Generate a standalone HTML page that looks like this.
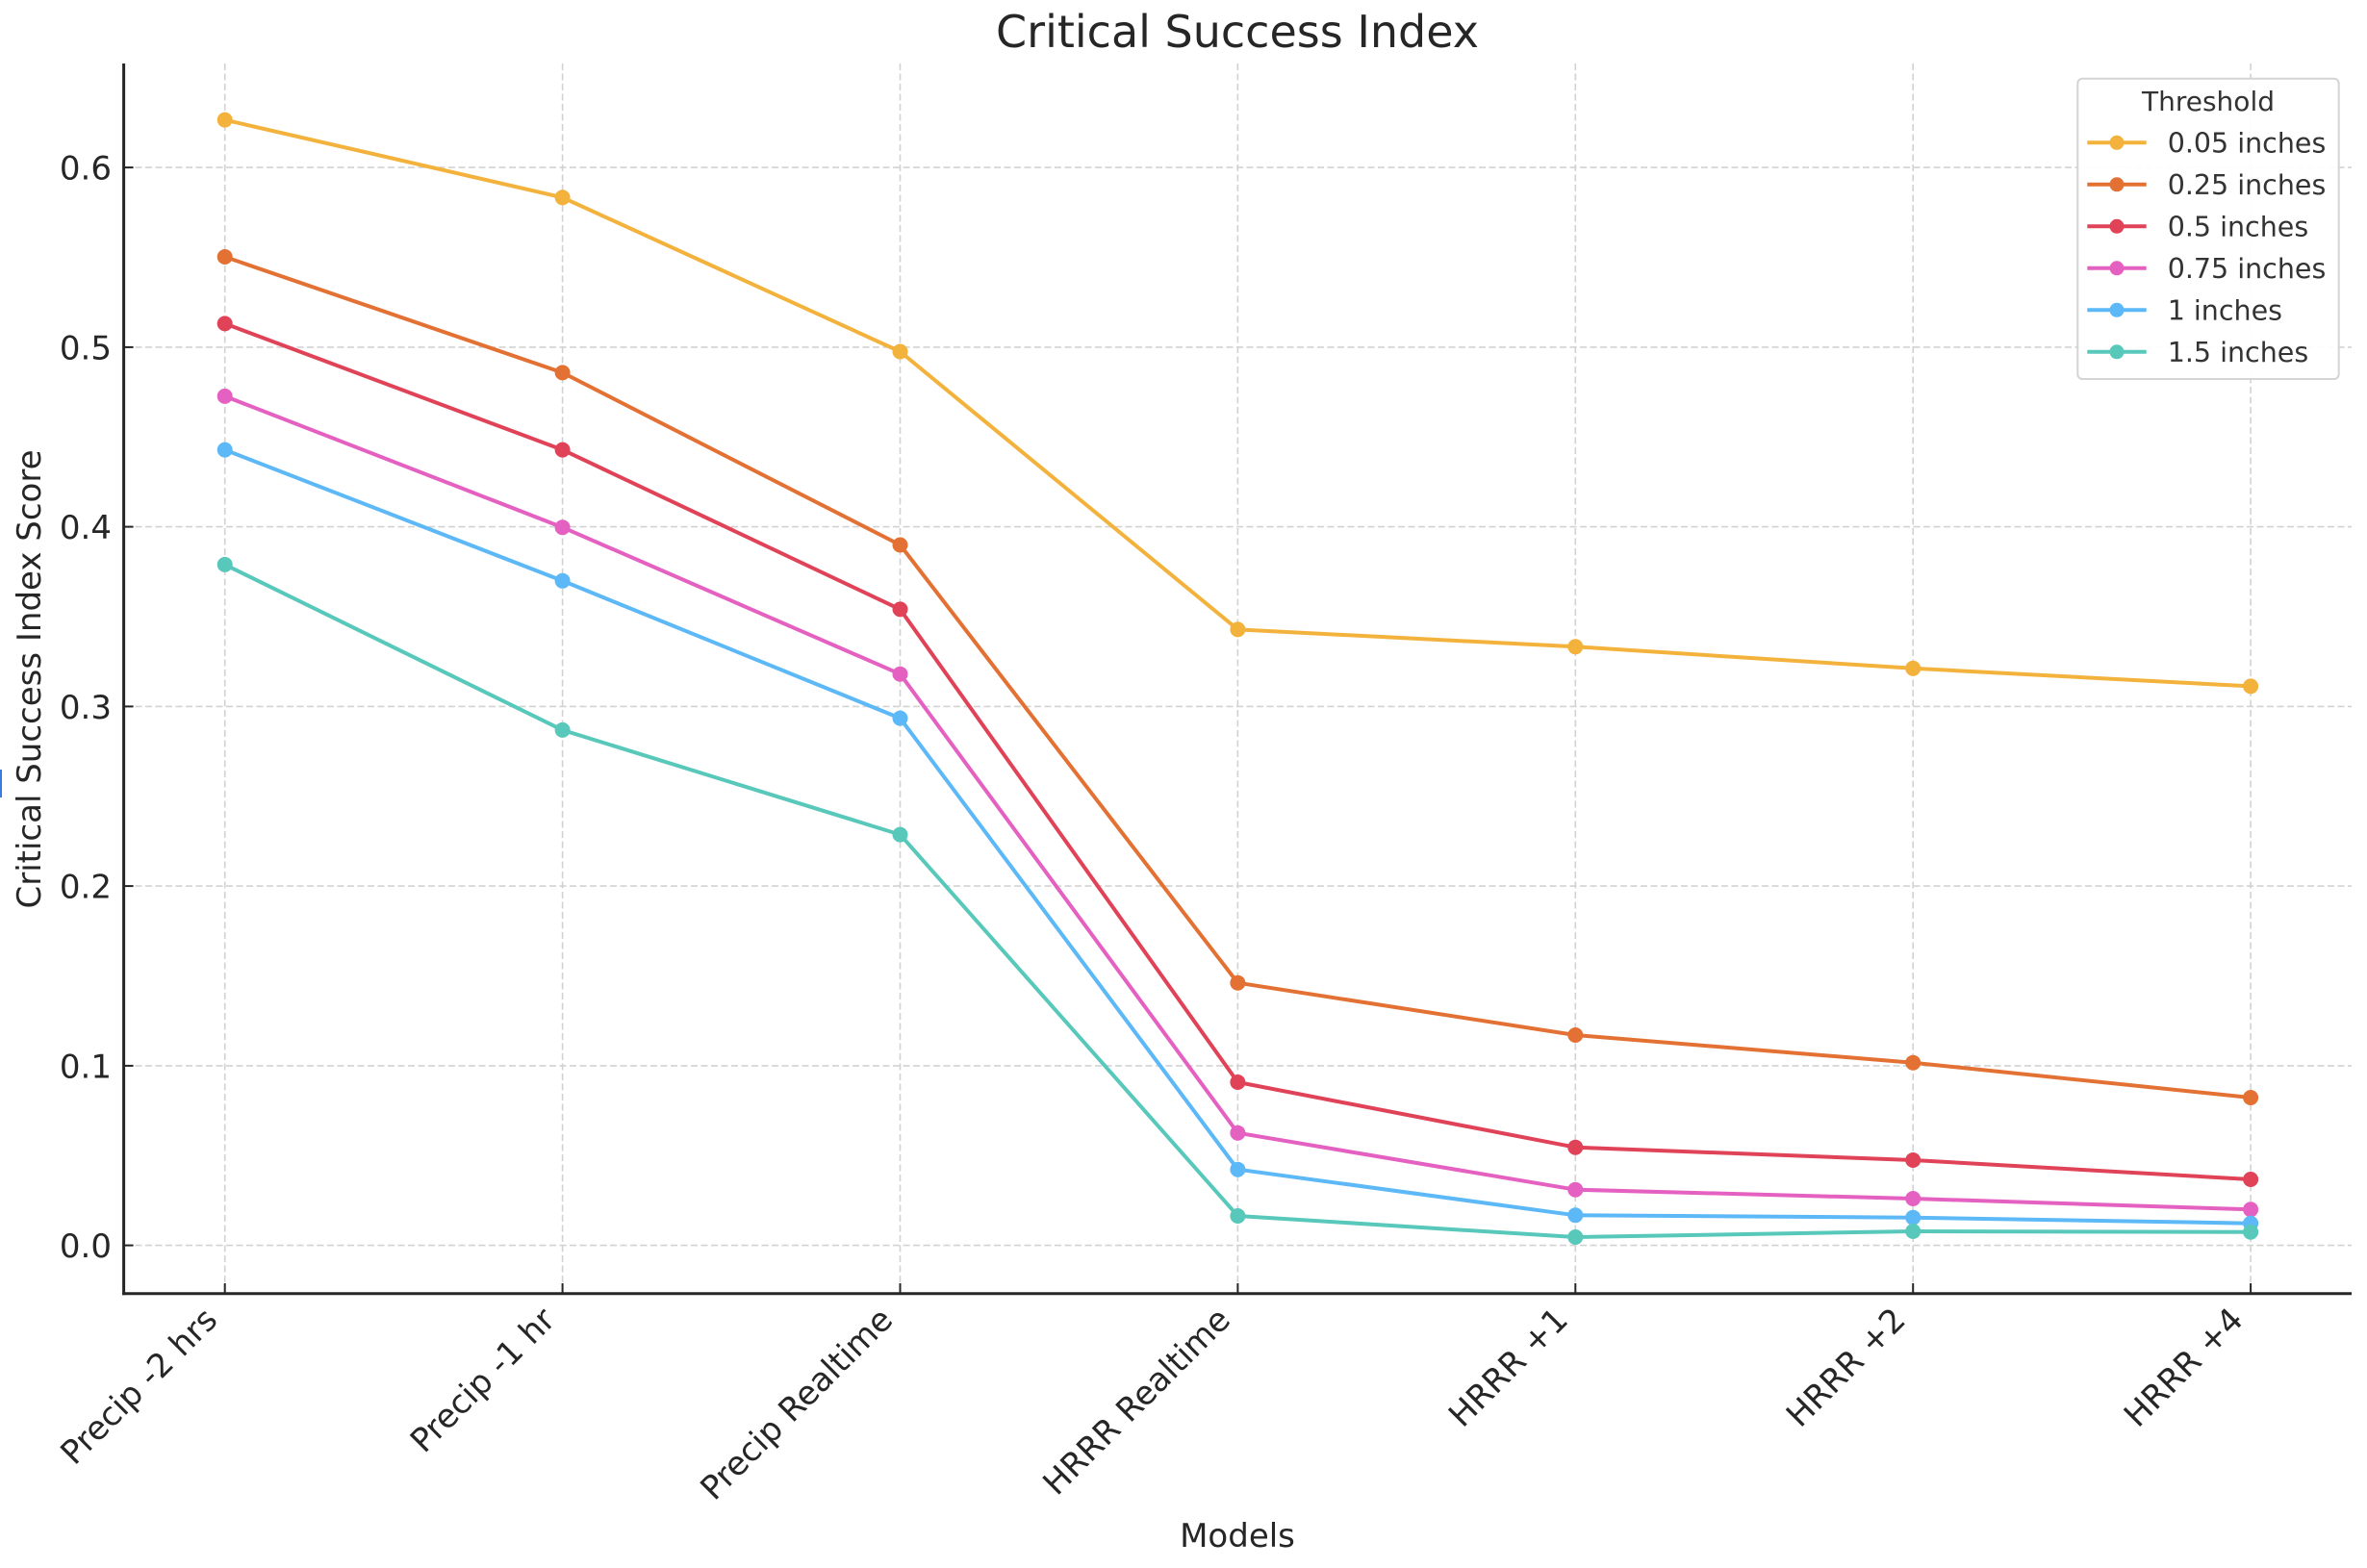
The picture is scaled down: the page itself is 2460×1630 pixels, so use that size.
<!DOCTYPE html>
<html>
<head>
<meta charset="utf-8">
<style>
  html, body { margin: 0; padding: 0; background: #ffffff; }
  svg { display: block; }
  text { font-family: "DejaVu Sans", "Liberation Sans", sans-serif; }
</style>
</head>
<body>
<svg width="2460" height="1630" viewBox="0 0 2460 1630" xmlns="http://www.w3.org/2000/svg">
  <rect x="0" y="0" width="2460" height="1630" fill="#ffffff"/>

  <!-- small artifact at left edge -->
  <rect x="0" y="800" width="2" height="29" fill="#3a7be0"/>

  <!-- Title -->
  <text x="1286" y="49" font-size="46" fill="#262626" text-anchor="middle">Critical Success Index</text>

  <!-- Grid: horizontal -->
  <g stroke="#d2d2d2" stroke-width="1.6" stroke-dasharray="7,3.5" fill="none">
    <line x1="130" y1="1294.6" x2="2444" y2="1294.6"/>
    <line x1="130" y1="1107.9" x2="2444" y2="1107.9"/>
    <line x1="130" y1="921.1" x2="2444" y2="921.1"/>
    <line x1="130" y1="734.4" x2="2444" y2="734.4"/>
    <line x1="130" y1="547.6" x2="2444" y2="547.6"/>
    <line x1="130" y1="360.9" x2="2444" y2="360.9"/>
    <line x1="130" y1="174.1" x2="2444" y2="174.1"/>
  </g>
  <!-- Grid: vertical -->
  <g stroke="#d2d2d2" stroke-width="1.6" stroke-dasharray="7,3.5" fill="none">
    <line x1="233.7" y1="66" x2="233.7" y2="1344"/>
    <line x1="584.6" y1="66" x2="584.6" y2="1344"/>
    <line x1="935.5" y1="66" x2="935.5" y2="1344"/>
    <line x1="1286.4" y1="66" x2="1286.4" y2="1344"/>
    <line x1="1637.3" y1="66" x2="1637.3" y2="1344"/>
    <line x1="1988.2" y1="66" x2="1988.2" y2="1344"/>
    <line x1="2339.1" y1="66" x2="2339.1" y2="1344"/>
  </g>

  <!-- Series -->
  <g stroke-width="4" fill="none" stroke-linejoin="round" stroke-linecap="round">
    <polyline stroke="#F3B23C" points="233.7,124.6 584.6,205.3 935.5,365.5 1286.4,654.4 1637.3,672.3 1988.2,694.8 2339.1,713.4"/>
  </g>
  <g fill="#F3B23C">
    <circle cx="233.7" cy="124.6" r="8"/><circle cx="584.6" cy="205.3" r="8"/><circle cx="935.5" cy="365.5" r="8"/><circle cx="1286.4" cy="654.4" r="8"/><circle cx="1637.3" cy="672.3" r="8"/><circle cx="1988.2" cy="694.8" r="8"/><circle cx="2339.1" cy="713.4" r="8"/>
  </g>

  <g stroke-width="4" fill="none" stroke-linejoin="round" stroke-linecap="round">
    <polyline stroke="#E47134" points="233.7,267 584.6,387.4 935.5,566.5 1286.4,1021.7 1637.3,1076 1988.2,1104.7 2339.1,1141"/>
  </g>
  <g fill="#E47134">
    <circle cx="233.7" cy="267" r="8"/><circle cx="584.6" cy="387.4" r="8"/><circle cx="935.5" cy="566.5" r="8"/><circle cx="1286.4" cy="1021.7" r="8"/><circle cx="1637.3" cy="1076" r="8"/><circle cx="1988.2" cy="1104.7" r="8"/><circle cx="2339.1" cy="1141" r="8"/>
  </g>

  <g stroke-width="4" fill="none" stroke-linejoin="round" stroke-linecap="round">
    <polyline stroke="#E04358" points="233.7,336.4 584.6,467.6 935.5,633.4 1286.4,1125 1637.3,1192.7 1988.2,1206 2339.1,1226"/>
  </g>
  <g fill="#E04358">
    <circle cx="233.7" cy="336.4" r="8"/><circle cx="584.6" cy="467.6" r="8"/><circle cx="935.5" cy="633.4" r="8"/><circle cx="1286.4" cy="1125" r="8"/><circle cx="1637.3" cy="1192.7" r="8"/><circle cx="1988.2" cy="1206" r="8"/><circle cx="2339.1" cy="1226" r="8"/>
  </g>

  <g stroke-width="4" fill="none" stroke-linejoin="round" stroke-linecap="round">
    <polyline stroke="#E561C1" points="233.7,411.9 584.6,548.2 935.5,700.7 1286.4,1177.7 1637.3,1236.7 1988.2,1246 2339.1,1257.3"/>
  </g>
  <g fill="#E561C1">
    <circle cx="233.7" cy="411.9" r="8"/><circle cx="584.6" cy="548.2" r="8"/><circle cx="935.5" cy="700.7" r="8"/><circle cx="1286.4" cy="1177.7" r="8"/><circle cx="1637.3" cy="1236.7" r="8"/><circle cx="1988.2" cy="1246" r="8"/><circle cx="2339.1" cy="1257.3" r="8"/>
  </g>

  <g stroke-width="4" fill="none" stroke-linejoin="round" stroke-linecap="round">
    <polyline stroke="#5CB8F6" points="233.7,467.6 584.6,603.8 935.5,746.6 1286.4,1215.7 1637.3,1263.3 1988.2,1265.7 2339.1,1271.7"/>
  </g>
  <g fill="#5CB8F6">
    <circle cx="233.7" cy="467.6" r="8"/><circle cx="584.6" cy="603.8" r="8"/><circle cx="935.5" cy="746.6" r="8"/><circle cx="1286.4" cy="1215.7" r="8"/><circle cx="1637.3" cy="1263.3" r="8"/><circle cx="1988.2" cy="1265.7" r="8"/><circle cx="2339.1" cy="1271.7" r="8"/>
  </g>

  <g stroke-width="4" fill="none" stroke-linejoin="round" stroke-linecap="round">
    <polyline stroke="#58C8BB" points="233.7,586.9 584.6,758.9 935.5,867.6 1286.4,1264 1637.3,1286 1988.2,1280 2339.1,1280.7"/>
  </g>
  <g fill="#58C8BB">
    <circle cx="233.7" cy="586.9" r="8"/><circle cx="584.6" cy="758.9" r="8"/><circle cx="935.5" cy="867.6" r="8"/><circle cx="1286.4" cy="1264" r="8"/><circle cx="1637.3" cy="1286" r="8"/><circle cx="1988.2" cy="1280" r="8"/><circle cx="2339.1" cy="1280.7" r="8"/>
  </g>

  <!-- Spines -->
  <g stroke="#262626" stroke-width="3" fill="none">
    <line x1="128.6" y1="66" x2="128.6" y2="1346.2"/>
    <line x1="127.1" y1="1344.7" x2="2444" y2="1344.7"/>
  </g>
  <!-- Ticks (inward) -->
  <g stroke="#262626" stroke-width="2">
    <line x1="128.6" y1="1294.6" x2="138.6" y2="1294.6"/>
    <line x1="128.6" y1="1107.9" x2="138.6" y2="1107.9"/>
    <line x1="128.6" y1="921.1" x2="138.6" y2="921.1"/>
    <line x1="128.6" y1="734.4" x2="138.6" y2="734.4"/>
    <line x1="128.6" y1="547.6" x2="138.6" y2="547.6"/>
    <line x1="128.6" y1="360.9" x2="138.6" y2="360.9"/>
    <line x1="128.6" y1="174.1" x2="138.6" y2="174.1"/>
    <line x1="233.7" y1="1344.7" x2="233.7" y2="1334"/>
    <line x1="584.6" y1="1344.7" x2="584.6" y2="1334"/>
    <line x1="935.5" y1="1344.7" x2="935.5" y2="1334"/>
    <line x1="1286.4" y1="1344.7" x2="1286.4" y2="1334"/>
    <line x1="1637.3" y1="1344.7" x2="1637.3" y2="1334"/>
    <line x1="1988.2" y1="1344.7" x2="1988.2" y2="1334"/>
    <line x1="2339.1" y1="1344.7" x2="2339.1" y2="1334"/>
  </g>

  <!-- Y tick labels -->
  <g font-size="34" fill="#262626" text-anchor="end">
    <text x="116" y="1307">0.0</text>
    <text x="116" y="1120.3">0.1</text>
    <text x="116" y="933.5">0.2</text>
    <text x="116" y="746.8">0.3</text>
    <text x="116" y="560">0.4</text>
    <text x="116" y="373.3">0.5</text>
    <text x="116" y="186.5">0.6</text>
  </g>

  <!-- X tick labels -->
  <g font-size="34" fill="#262626" text-anchor="end">
    <text transform="translate(227.7,1374) rotate(-45)">Precip -2 hrs</text>
    <text transform="translate(578.6,1374) rotate(-45)">Precip -1 hr</text>
    <text transform="translate(929.5,1374) rotate(-45)">Precip Realtime</text>
    <text transform="translate(1280.4,1374) rotate(-45)">HRRR Realtime</text>
    <text transform="translate(1631.3,1374) rotate(-45)">HRRR +1</text>
    <text transform="translate(1982.2,1374) rotate(-45)">HRRR +2</text>
    <text transform="translate(2333.1,1374) rotate(-45)">HRRR +4</text>
  </g>

  <!-- Axis labels -->
  <text x="1286" y="1608" font-size="34" fill="#262626" text-anchor="middle">Models</text>
  <text transform="translate(42,706) rotate(-90)" font-size="34" fill="#262626" text-anchor="middle">Critical Success Index Score</text>

  <!-- Legend -->
  <rect x="2159.3" y="81.7" width="271.4" height="312.3" rx="5" ry="5" fill="#ffffff" fill-opacity="0.92" stroke="#d4d4d4" stroke-width="2"/>
  <text x="2295" y="115" font-size="28" fill="#333333" text-anchor="middle">Threshold</text>
  <g stroke-width="4">
    <line x1="2169.3" y1="148.3" x2="2230.7" y2="148.3" stroke="#F3B23C"/>
    <line x1="2169.3" y1="191.8" x2="2230.7" y2="191.8" stroke="#E47134"/>
    <line x1="2169.3" y1="235.3" x2="2230.7" y2="235.3" stroke="#E04358"/>
    <line x1="2169.3" y1="278.8" x2="2230.7" y2="278.8" stroke="#E561C1"/>
    <line x1="2169.3" y1="322.3" x2="2230.7" y2="322.3" stroke="#5CB8F6"/>
    <line x1="2169.3" y1="365.8" x2="2230.7" y2="365.8" stroke="#58C8BB"/>
  </g>
  <circle cx="2200" cy="148.3" r="7.5" fill="#F3B23C"/>
  <circle cx="2200" cy="191.8" r="7.5" fill="#E47134"/>
  <circle cx="2200" cy="235.3" r="7.5" fill="#E04358"/>
  <circle cx="2200" cy="278.8" r="7.5" fill="#E561C1"/>
  <circle cx="2200" cy="322.3" r="7.5" fill="#5CB8F6"/>
  <circle cx="2200" cy="365.8" r="7.5" fill="#58C8BB"/>
  <g font-size="28.5" fill="#333333">
    <text x="2252.7" y="158.6">0.05 inches</text>
    <text x="2252.7" y="202.1">0.25 inches</text>
    <text x="2252.7" y="245.6">0.5 inches</text>
    <text x="2252.7" y="289.1">0.75 inches</text>
    <text x="2252.7" y="332.6">1 inches</text>
    <text x="2252.7" y="376.1">1.5 inches</text>
  </g>
</svg>
</body>
</html>
